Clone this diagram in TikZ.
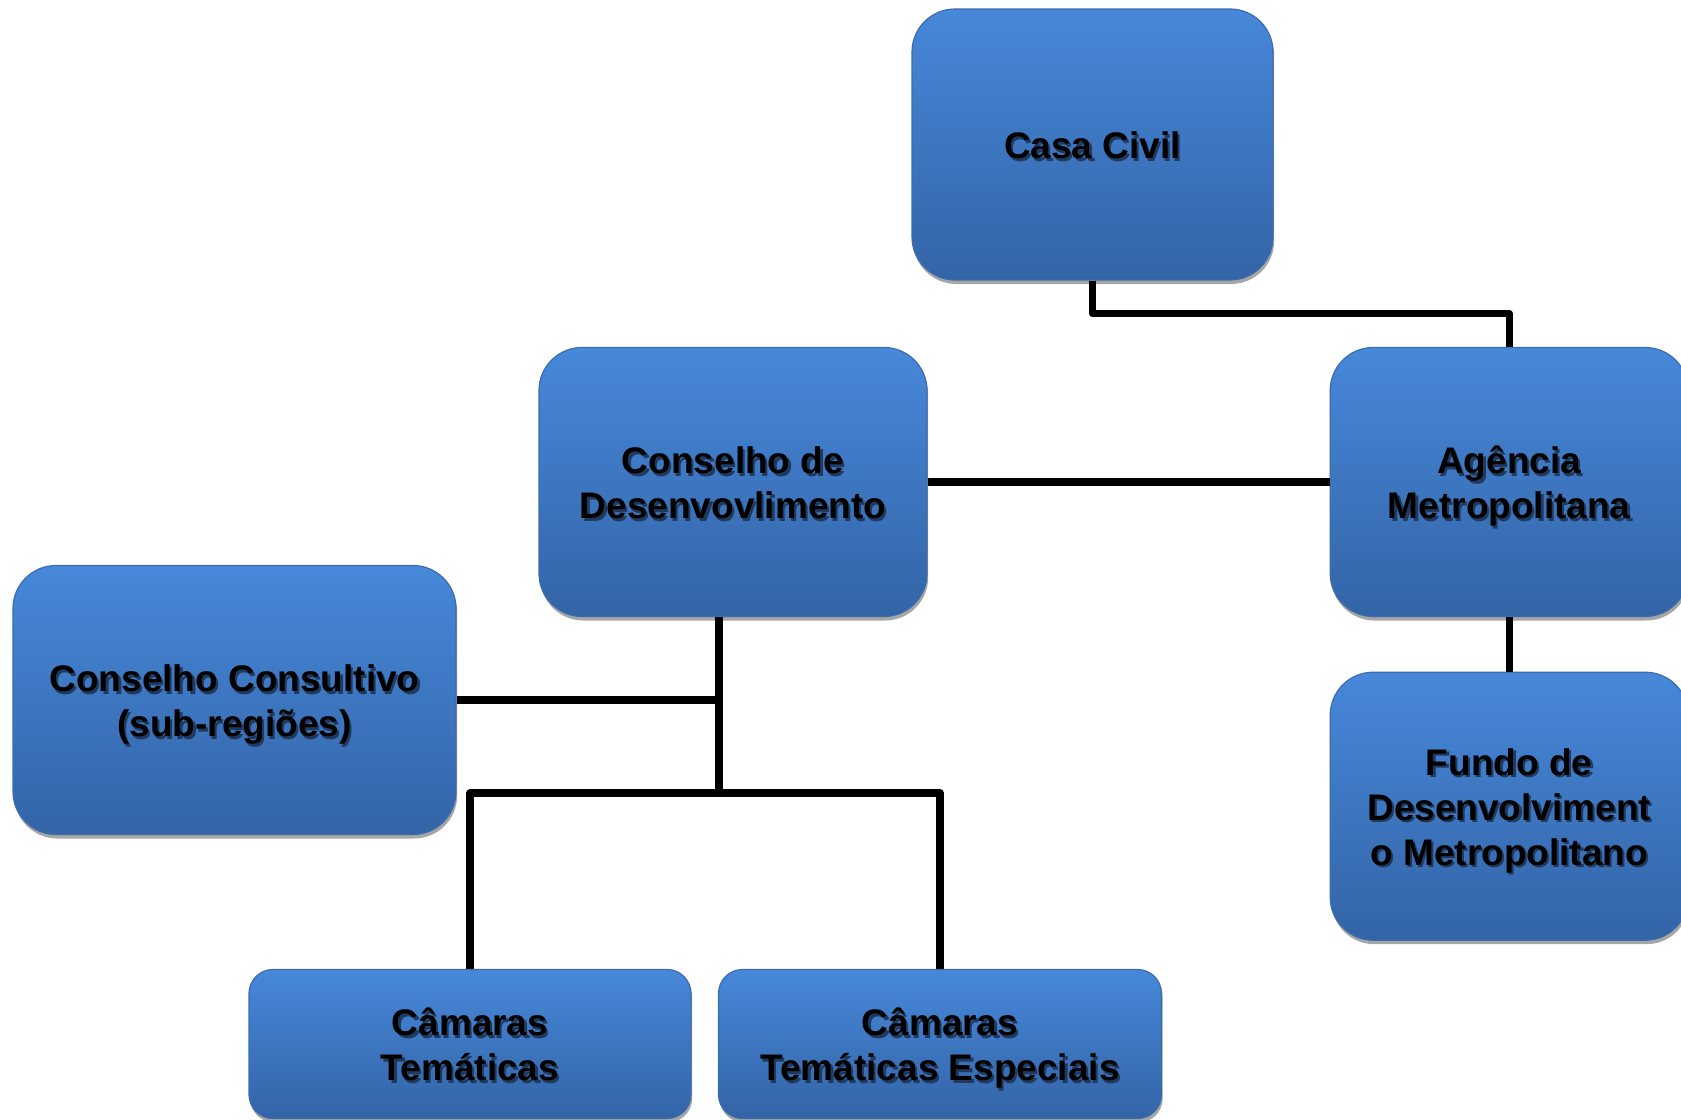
\documentclass[tikz,border=0pt]{standalone}
\usepackage{fontspec}
\setmainfont{Liberation Sans}
\usepackage{tikz}
\usetikzlibrary{positioning, shadows}
\definecolor{boxtop}{HTML}{4788DA}
\definecolor{boxbot}{HTML}{3364A6}
\definecolor{boxedge}{HTML}{3A6CAE}
\definecolor{txtshadow}{HTML}{1F3A5E}
\newcommand{\shtext}[1]{\raisebox{-3.2pt}[\height][\depth]{\rlap{\hspace{1.1pt}\raisebox{-1.1pt}{\color{txtshadow}\begin{tabular}{@{}c@{}}#1\end{tabular}}}\begin{tabular}{@{}c@{}}#1\end{tabular}}}
\tikzset{
    orgbox/.style={rectangle, rounded corners=21.5pt, draw=boxedge, line width=0.6pt, top color=boxtop, bottom color=boxbot, align=center, inner sep=0pt, font=\bfseries\fontsize{18.5}{22.5}\selectfont, drop shadow={shadow xshift=0.6pt, shadow yshift=-2pt, opacity=0.35, fill=black}},
    smallbox/.style={orgbox, rounded corners=12pt},
    conn/.style={line width=3.6pt, black, line join=round}
}
\begin{document}
\begin{tikzpicture}[x=0.5pt, y=-0.5pt]
        \fill[white] (0,0) rectangle (1681,1119);
        \useasboundingbox (0,0) rectangle (1681,1119);

        % Top
        \node[orgbox, minimum width=180.5pt, minimum height=135.5pt] (casa) at (1092.5,144.5) {\shtext{Casa Civil}};

        % Middle row
        \node[orgbox, minimum width=194pt, minimum height=134.5pt] (desenv) at (733,482) {\shtext{Conselho de\\Desenvovlimento}};
        \node[orgbox, minimum width=179pt, minimum height=134.5pt, right=201pt of desenv] (agencia) {\shtext{Agência\\Metropolitana}};
        \node[orgbox, minimum width=179pt, minimum height=134pt, below=27.25pt of agencia] (fundo) {\shtext{Fundo de\\Desenvolviment\\o Metropolitano}};
        \node[orgbox, minimum width=221.5pt, minimum height=134.5pt] (consultivo) at (234.5,700) {\shtext{Conselho Consultivo\\(sub-regiões)}};

        % Bottom row
        \node[smallbox, minimum width=221pt, minimum height=74.5pt] (camTem) at (470,1044) {\shtext{Câmaras\\Temáticas}};
        \node[smallbox, minimum width=221.5pt, minimum height=74.5pt] (camEsp) at (940,1044) {\shtext{Câmaras\\Temáticas Especiais}};

        \coordinate (hub) at (719,793);

        % Connections
        \draw[conn] (casa.south) -- ++(0,33) -| (agencia.north);
        \draw[conn] (desenv) -- (agencia);
        \draw[conn] (agencia) -- (fundo);
        \draw[conn] (hub |- desenv.south) -- (hub);
        \draw[conn] (consultivo.east) -- (consultivo.east -| hub);
        \draw[conn] (camTem.north) |- (hub) -| (camEsp.north);

    \end{tikzpicture}
\end{document}
